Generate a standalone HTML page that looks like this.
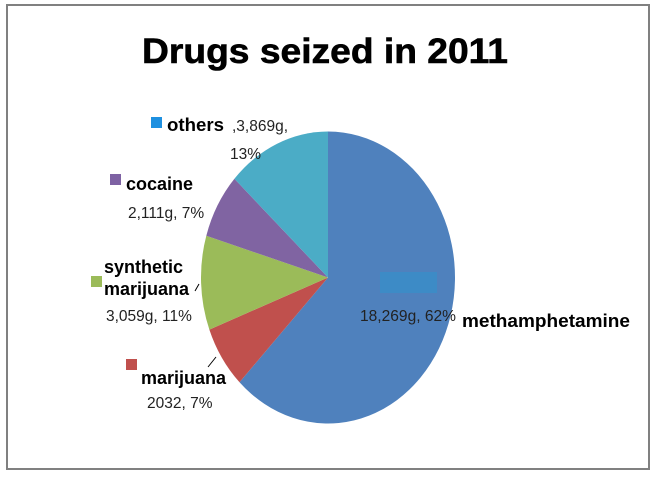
<!DOCTYPE html>
<html><head><meta charset="utf-8"><style>
body{margin:0;background:#fff;}
svg{display:block;font-family:"Liberation Sans",sans-serif;}
.b{font-weight:bold;font-size:18px;fill:#000}
.r{font-size:15.5px;fill:#222}
</style></head><body>
<svg width="656" height="477">
<rect x="7" y="5" width="642" height="464" fill="#fff" stroke="#808080" stroke-width="2"/>
<text x="325" y="63" text-anchor="middle" font-size="35" font-weight="bold" stroke="#000" stroke-width="0.6" textLength="366" lengthAdjust="spacingAndGlyphs">Drugs seized in 2011</text>
<g id="slices"></g>
<rect x="380" y="272" width="57" height="21" fill="#3d8bc6"/>
<text class="r" x="360" y="321" textLength="96" lengthAdjust="spacingAndGlyphs">18,269g, 62%</text>
<text class="b" x="462" y="327" textLength="168" lengthAdjust="spacingAndGlyphs">methamphetamine</text>
<rect x="151" y="117" width="11" height="11" fill="#1e90e0"/>
<text class="b" x="167" y="131" textLength="57" lengthAdjust="spacingAndGlyphs">others</text>
<text class="r" x="232" y="131">,3,869g,</text>
<text class="r" x="230" y="159">13%</text>
<rect x="110" y="174" width="11" height="11" fill="#7e62a3"/>
<text class="b" x="126" y="190">cocaine</text>
<text class="r" x="128" y="218">2,111g, 7%</text>
<rect x="91" y="276" width="11" height="11" fill="#9bbb59"/>
<text class="b" x="104" y="273">synthetic</text>
<text class="b" x="104" y="295">marijuana</text>
<line x1="195" y1="291" x2="199" y2="284" stroke="#000"/>
<text class="r" x="106" y="321">3,059g, 11%</text>
<rect x="126" y="359" width="11" height="11" fill="#c0504d"/>
<text class="b" x="141" y="384">marijuana</text>
<line x1="208" y1="367" x2="216" y2="357" stroke="#000"/>
<text class="r" x="147" y="408">2032, 7%</text>
</svg>
<script>
const categories=["methamphetamine","marijuana","synthetic marijuana","cocaine","others"];
const values=[18269,2032,3059,2111,3869];
const colors=["#4f81bd","#c0504d","#9bbb59","#8064a2","#4bacc6"];
const cx=328,cy=277.5,rx=127,ry=146;
const g=document.getElementById('slices');
const total=values.reduce((a,b)=>a+b,0);
let a0=0;
function pt(a){return [cx+rx*Math.sin(a),cy-ry*Math.cos(a)];}
values.forEach((v,i)=>{
  const a1=a0+v/total*2*Math.PI;
  const p0=pt(a0),p1=pt(a1);
  const large=(a1-a0)>Math.PI?1:0;
  const p=document.createElementNS('http://www.w3.org/2000/svg','path');
  p.setAttribute('d',`M${cx},${cy}L${p0[0]},${p0[1]}A${rx},${ry} 0 ${large} 1 ${p1[0]},${p1[1]}Z`);
  p.setAttribute('fill',colors[i]);
  
  
  g.appendChild(p);
  a0=a1;
});
</script>
</body></html>
